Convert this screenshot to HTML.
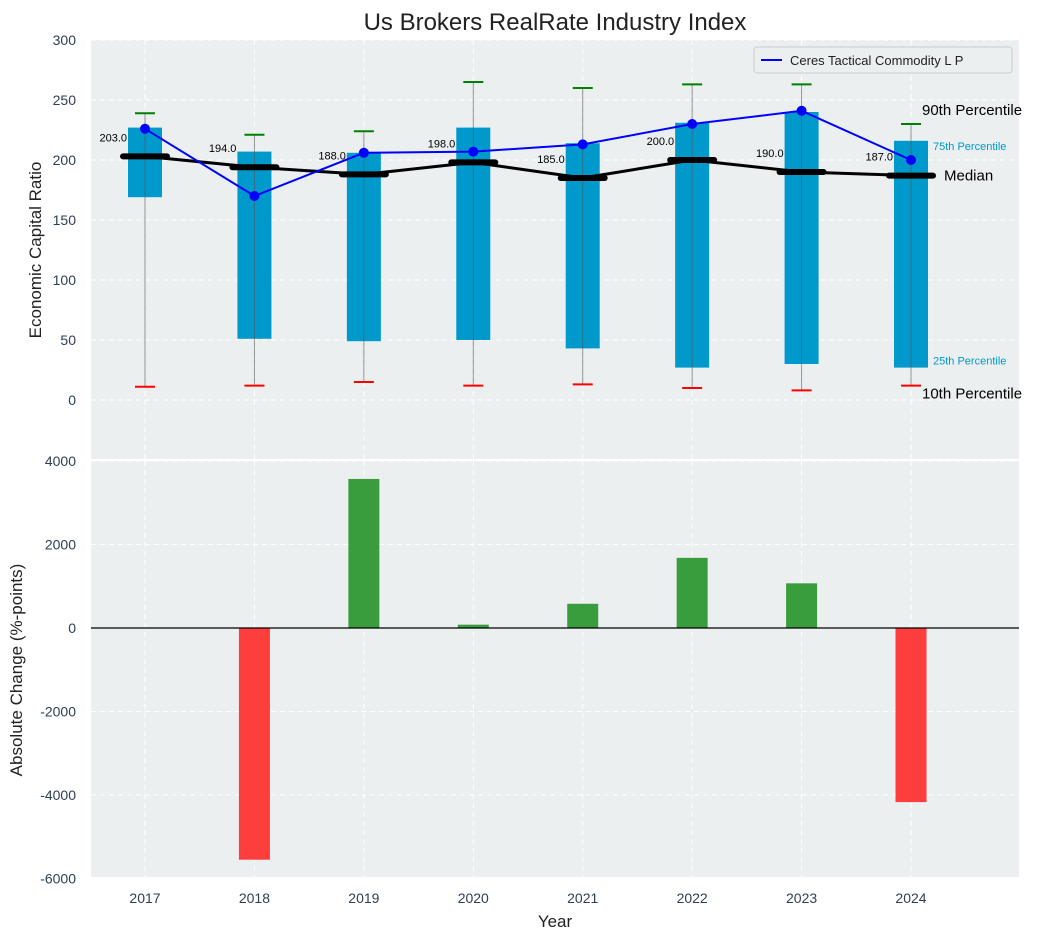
<!DOCTYPE html>
<html><head><meta charset="utf-8"><style>
body{margin:0;background:#fff;font-family:"Liberation Sans",sans-serif}
svg text{font-family:"Liberation Sans",sans-serif}
</style></head><body>
<svg id="c" width="1043" height="940" xmlns="http://www.w3.org/2000/svg"></svg>
<script>
const years=[2017,2018,2019,2020,2021,2022,2023,2024];
const p10=[11,12,15,12,13,10,8,12];
const q1=[169,51,49,50,43,27,30,27];
const median=[203,194,188,198,185,200,190,187];
const q3=[227,207,206,227,214,231,240,216];
const p90=[239,221,224,265,260,263,263,230];
const company=[226,170,206,207,213,230,241,200];
const change=[0,-5550,3570,80,580,1680,1070,-4170];
const topTicks=[0,50,100,150,200,250,300];
const botTicks=[-6000,-4000,-2000,0,2000,4000];

const svg=document.getElementById('c');
const NS='http://www.w3.org/2000/svg';
function el(t,a,p){const e=document.createElementNS(NS,t);for(const k in a)e.setAttribute(k,a[k]);(p||svg).appendChild(e);return e;}
const L=91,R=1019;
const x=v=>145+(v-2017)*109.43;
const yT=v=>400-v*1.2;
const yB=v=>628-v*0.04175;
const tc='#2e3f52';

let e;
e=el('rect',{x:L,y:40,width:R-L,height:419,fill:'#ebeff0'});


e=el('rect',{x:L,y:461,width:R-L,height:416,fill:'#ebeff0'});



years.forEach(yr=>{
  [[40,459],[461,877]].forEach(r=>{
    e=el('line',{x1:x(yr),x2:x(yr),y1:r[0],y2:r[1],stroke:'#fff','stroke-dasharray':'5,4','stroke-width':1});
    
    
  });
  e=el('text',{x:x(yr),y:903,'text-anchor':'middle','font-size':14,fill:tc});e.textContent=yr;
  
  
});
topTicks.forEach(t=>{
  e=el('line',{x1:L,x2:R,y1:yT(t),y2:yT(t),stroke:'#fff','stroke-dasharray':'5,4'});
  
  
  e=el('text',{x:76,y:yT(t)+5,'text-anchor':'end','font-size':14,fill:tc});e.textContent=t;
  
  
});
botTicks.forEach(t=>{
  e=el('line',{x1:L,x2:R,y1:yB(t),y2:yB(t),stroke:'#fff','stroke-dasharray':'5,4'});
  
  
  e=el('text',{x:76,y:yB(t)+5,'text-anchor':'end','font-size':14,fill:tc});e.textContent=t;
  
  
});

years.forEach((yr,i)=>{
  const cx=x(yr);
  e=el('rect',{x:cx-17,y:yT(q3[i]),width:34,height:yT(q1[i])-yT(q3[i]),fill:'#0099cc'});
  
  
  e=el('line',{x1:cx,x2:cx,y1:yT(p90[i]),y2:yT(p10[i]),stroke:'#555','stroke-opacity':0.6,'stroke-width':1});
  
  
  e=el('line',{x1:cx-10,x2:cx+10,y1:yT(p90[i]),y2:yT(p90[i]),stroke:'green','stroke-width':2});
  
  
  e=el('line',{x1:cx-10,x2:cx+10,y1:yT(p10[i]),y2:yT(p10[i]),stroke:'red','stroke-width':2});
  
  
  e=el('line',{x1:cx-22,x2:cx+22,y1:yT(median[i]),y2:yT(median[i]),stroke:'#000','stroke-width':6,'stroke-linecap':'round'});
  
  
  e=el('text',{x:cx-18,y:yT(median[i])-15,'text-anchor':'end','font-size':11,fill:'#000'});e.textContent=median[i].toFixed(1);
  
  
});
e=el('polyline',{points:years.map((yr,i)=>x(yr)+','+yT(median[i])).join(' '),fill:'none',stroke:'#000','stroke-width':3});


e=el('polyline',{points:years.map((yr,i)=>x(yr)+','+yT(company[i])).join(' '),fill:'none',stroke:'blue','stroke-width':2});


years.forEach((yr,i)=>{
  e=el('circle',{cx:x(yr),cy:yT(company[i]),r:5,fill:'blue'});
  
  
});
const last=years.length-1, lx=x(years[last]);
[['90th Percentile',lx+11,yT(p90[last])-9,15,'#000','annot-90'],['75th Percentile',lx+22,yT(q3[last])+9,11,'#0099cc','annot-75'],
 ['Median',lx+33,yT(median[last])+5,15,'#000','annot-median'],['25th Percentile',lx+22,yT(q1[last])-3,11,'#0099cc','annot-25'],
 ['10th Percentile',lx+11,yT(p10[last])+13,15,'#000','annot-10']].forEach(a=>{
  e=el('text',{x:a[1],y:a[2],'font-size':a[3],fill:a[4]});e.textContent=a[0];
  
  
});

e=el('rect',{x:754,y:47,width:258,height:26,fill:'#ebeff0',stroke:'#ccc',rx:3});


e=el('line',{x1:761,x2:782,y1:60,y2:60,stroke:'blue','stroke-width':2});


e=el('text',{x:790,y:65,'font-size':13,fill:'#222'});e.textContent='Ceres Tactical Commodity L P';



years.forEach((yr,i)=>{
  const v=change[i];
  e=el('rect',{x:x(yr)-15.5,y:Math.min(yB(v),yB(0)),width:31,height:Math.abs(yB(v)-yB(0)),fill:v>=0?'#3a9d3d':'#fe3d3d'});
  
  
});
e=el('line',{x1:L,x2:R,y1:yB(0),y2:yB(0),stroke:'#000','stroke-width':1.2});



e=el('text',{x:555,y:30,'text-anchor':'middle','font-size':24,fill:'#222'});e.textContent='Us Brokers RealRate Industry Index';


e=el('text',{x:555,y:927,'text-anchor':'middle','font-size':17,fill:'#222'});e.textContent='Year';


e=el('text',{x:0,y:0,'text-anchor':'middle','font-size':17,fill:'#222',transform:'translate(41,250) rotate(-90)'});e.textContent='Economic Capital Ratio';


e=el('text',{x:0,y:0,'text-anchor':'middle','font-size':17,fill:'#222',transform:'translate(22,670) rotate(-90)'});e.textContent='Absolute Change (%-points)';


</script>
</body></html>
